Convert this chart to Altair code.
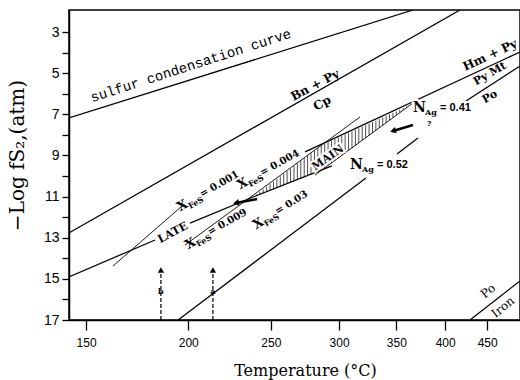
import altair as alt
import numpy as np
import pandas as pd

# ---------------- axis ticks ----------------
x_ticks_C = [150, 200, 250, 300, 350, 400, 450]
y_ticks = list(range(3, 18))

# ---------------- lines (Temperature °C, -log fS2) ----------------
sulfur_T = [142.6, 366.2];  sulfur_v = [7.18, 1.93]
bncp_T = [142.6, 416.9];    bncp_v = [12.77, 1.93]
lineA1_T = [142.6, 182.5];  lineA1_v = [14.91, 13.11]
lineA2_T = [201.0, 238.3, 294.3]; lineA2_v = [12.29, 11.02, 9.51]
hmpy_T = [273.9, 494.6];    hmpy_v = [8.83, 3.97]
lower1_T = [194.5, 322.4];  lower1_v = [17.0, 10.10]
lower2_T = [350.6, 371.2];  lower2_v = [8.93, 8.15]
pypo_T = [423.9, 494.6];    pypo_v = [6.35, 4.65]
poiron_T = [428.7, 494.6];  poiron_v = [17.0, 15.10]
xfes004_T = [198.2, 317.3]; xfes004_v = [13.36, 7.13]
nag052_T = [281.3, 366.2];  nag052_v = [9.95, 6.45]
xfes001_T = [162.1, 196.6]; xfes001_v = [14.38, 11.46]

# MAIN field (lens): left, top, right, bottom vertices
lens_T = [238.3, 286.6, 363.2, 286.6]
lens_v = [11.02, 8.49, 6.55, 9.71]

# vertical arrows a / b
arrow_T = [185.5, 213.9]
arrow_name = ["b", "a"]
arrow_base_v = [17.0, 17.0]
arrow_tip_v = [14.57, 14.57]
arrow_lab_v = [15.64, 15.64]

# bold arrows (tail -> head)
bold_tail_T = [366.2, 240.9]; bold_tail_v = [7.52, 11.12]
bold_head_T = [346.8, 227.7]; bold_head_v = [7.81, 11.31]

# text labels
lab_text = ["sulfur condensation curve", "Bn + Py", "Cp", "Hm + Py", "Py Mt", "Po",
            "MAIN", "LATE", "Po", "Iron", "?"]
lab_T = [201.5, 281.3, 286.6, 453.6, 453.6, 453.6, 291.2, 191.8, 451.1, 470.8, 382.6]
lab_v = [4.65, 5.58, 6.45, 4.12, 5.04, 6.16, 9.125, 12.77, 15.59, 16.37, 7.47]

nag_value = ["0.41", "0.52"]
nag_T = [366.2, 308.9]
nag_v = [6.69, 9.466]

xfes_value = ["0.001", "0.004", "0.009", "0.03"]
xfes_T = [194.5, 228.9, 198.8, 238.9]
xfes_v = [11.556, 10.486, 13.40, 12.43]

# ---------------- scales / axes ----------------
U = "1000 / (datum.T + 273.15)"
u_left = 2.40499
u_right = 1.30257
xscale = alt.Scale(domain=[u_right, u_left], reverse=True, nice=False, zero=False)
yscale = alt.Scale(domain=[1.93, 17.0], reverse=True, nice=False, zero=False)

xaxis = alt.Axis(values=[1000.0 / (t + 273.15) for t in x_ticks_C],
                 labelExpr="format(1000 / datum.value - 273.15, '.0f')",
                 title="Temperature (°C)", grid=False, tickSize=10, tickWidth=1.3,
                 tickColor="black", domainColor="black", domainWidth=1.5,
                 labelFont="Liberation Sans", labelFontSize=12, labelColor="black",
                 labelPadding=7, labelOverlap=False,
                 titleFont="DejaVu Serif", titleFontSize=16, titleFontWeight="normal",
                 titleColor="black", titleX=236, titleY=50, titleBaseline="middle",
                 titleAlign="center")
yaxis = alt.Axis(values=y_ticks, labelExpr="datum.value % 2 == 1 ? datum.label : ''",
                 title="\u2212Log  fS\u2082,(atm)", grid=False, tickSize=7, tickWidth=1.3,
                 tickColor="black", domainColor="black", domainWidth=1.5,
                 labelFont="Liberation Sans", labelFontSize=14, labelColor="black",
                 labelPadding=3, labelOverlap=False,
                 titleFont="DejaVu Serif", titleFontSize=20, titleFontWeight="normal",
                 titleColor="black", titleAngle=270, titleX=-52, titleY=145,
                 titleBaseline="middle", titleAlign="center")


def X(f="u"):
    return alt.X(f"{f}:Q", scale=xscale, axis=xaxis)


def Y(f="v"):
    return alt.Y(f"{f}:Q", scale=yscale, axis=yaxis)


layers = []


def add_line(Ts, vs, width=1.3):
    df = pd.DataFrame({"T": Ts, "v": vs, "o": range(len(Ts))})
    layers.append(alt.Chart(df).mark_line(color="black", strokeWidth=width, clip=True)
                  .transform_calculate(u=U)
                  .encode(x=X(), y=Y(), order="o:Q"))


for Ts, vs in [(sulfur_T, sulfur_v), (bncp_T, bncp_v), (lineA1_T, lineA1_v),
               (lineA2_T, lineA2_v), (hmpy_T, hmpy_v), (lower1_T, lower1_v),
               (lower2_T, lower2_v), (pypo_T, pypo_v), (poiron_T, poiron_v)]:
    add_line(Ts, vs, 1.25)
for Ts, vs in [(xfes004_T, xfes004_v), (nag052_T, nag052_v), (xfes001_T, xfes001_v)]:
    add_line(Ts, vs, 0.9)

# hatching inside the MAIN lens
lu = 1000.0 / (np.array(lens_T) + 273.15)
uL, uTp, uR, uB = lu
vL, vT, vR, vB = lens_v
hu = np.linspace(uL, uR, 47)[1:-1]
top = np.interp(hu, [uR, uTp, uL], [vR, vT, vL])
bot = np.interp(hu, [uR, uB, uL], [vR, vB, vL])
hatch = pd.DataFrame({"T": 1000.0 / hu - 273.15, "top": top, "bot": bot})
layers.append(alt.Chart(hatch).mark_rule(color="black", strokeWidth=0.7)
              .transform_calculate(u=U)
              .encode(x=X(), y=Y("top"), y2="bot:Q"))

# vertical dashed arrows a, b
arr = pd.DataFrame({"T": arrow_T, "base": arrow_base_v, "tip": arrow_tip_v,
                    "lab": arrow_lab_v, "name": arrow_name})
layers.append(alt.Chart(arr).mark_rule(color="black", strokeWidth=1.2, strokeDash=[4, 2])
              .transform_calculate(u=U)
              .encode(x=X(), y=Y("base"), y2="tip:Q"))
layers.append(alt.Chart(arr).mark_point(shape="triangle-up", filled=True, size=40,
                                        color="black", opacity=1)
              .transform_calculate(u=U)
              .encode(x=X(), y=Y("tip")))
layers.append(alt.Chart(arr).mark_text(fontSize=8, fontWeight="bold", font="DejaVu Serif",
                                       color="black")
              .transform_calculate(u=U)
              .encode(x=X(), y=Y("lab"), text="name:N"))

# bold arrows
for i, ang in enumerate([343, 349]):
    df = pd.DataFrame({"T": [bold_tail_T[i], bold_head_T[i]],
                       "v": [bold_tail_v[i], bold_head_v[i]], "o": [0, 1]})
    layers.append(alt.Chart(df).mark_line(color="black", strokeWidth=2.6)
                  .transform_calculate(u=U).encode(x=X(), y=Y(), order="o:Q"))
    hd = pd.DataFrame({"T": [bold_head_T[i]], "v": [bold_head_v[i]]})
    layers.append(alt.Chart(hd).mark_point(shape="triangle-left", filled=True, size=45,
                                           angle=ang, color="black", opacity=1)
                  .transform_calculate(u=U).encode(x=X(), y=Y()))


def add_text(text, T, v, angle=0, size=12, dx=0, dy=0, weight="bold",
             font="DejaVu Serif", align="center", halo=False):
    df = pd.DataFrame({"T": [T], "v": [v], "t": [text]})
    if halo:
        layers.append(alt.Chart(df).mark_text(angle=angle, fontSize=size, dx=dx, dy=dy,
                                              fontWeight=weight, font=font, align=align,
                                              baseline="middle", color="white",
                                              stroke="white", strokeWidth=4)
                      .transform_calculate(u=U)
                      .encode(x=X(), y=Y(), text="t:N"))
    layers.append(alt.Chart(df).mark_text(angle=angle, fontSize=size, dx=dx, dy=dy,
                                          fontWeight=weight, font=font, align=align,
                                          baseline="middle", color="black")
                  .transform_calculate(u=U)
                  .encode(x=X(), y=Y(), text="t:N"))


lab_style = [
    dict(angle=342, size=14, weight="normal", font="Liberation Mono"),  # sulfur
    dict(angle=332, size=12),                    # Bn + Py
    dict(angle=332, size=12),                    # Cp
    dict(angle=335, size=12),                    # Hm + Py
    dict(angle=330, size=11),                    # Py Mt
    dict(angle=330, size=11),                    # Po
    dict(angle=325, size=11, halo=True),         # MAIN
    dict(angle=332, size=11, halo=True),         # LATE
    dict(angle=321, size=12, weight="normal"),   # Po
    dict(angle=321, size=12, weight="normal"),   # Iron
    dict(angle=0, size=8),                       # ?
]
for t, T, v, st in zip(lab_text, lab_T, lab_v, lab_style):
    add_text(t, T, v, **st)

# N_Ag labels
for val, T, v in zip(nag_value, nag_T, nag_v):
    add_text("N", T, v, size=14, align="left", halo=True)
    add_text("Ag", T, v, size=8, dx=12, dy=5, align="left", halo=True)
    add_text("=  " + val, T, v, size=11, dx=27, align="left", font="Liberation Sans",
             halo=True)

# X_FeS labels
xfes_angle = [330, 331, 330, 328]
for val, T, v, ang in zip(xfes_value, xfes_T, xfes_v, xfes_angle):
    add_text("X", T, v, angle=ang, size=13, align="left")
    add_text("FeS", T, v, angle=ang, size=8, dx=10, dy=5, align="left")
    add_text("=  " + val, T, v, angle=ang, size=10, dx=26, align="left")

chart = alt.layer(*layers).properties(
    width=451, height=310,
    padding={"left": 69, "top": 10, "right": 0, "bottom": 60},
    autosize=alt.AutoSizeParams(type="none"),
    background="white",
).configure_view(stroke="black", strokeWidth=1.5)

chart.save("out.html", embed_options={"renderer": "svg", "actions": False})
